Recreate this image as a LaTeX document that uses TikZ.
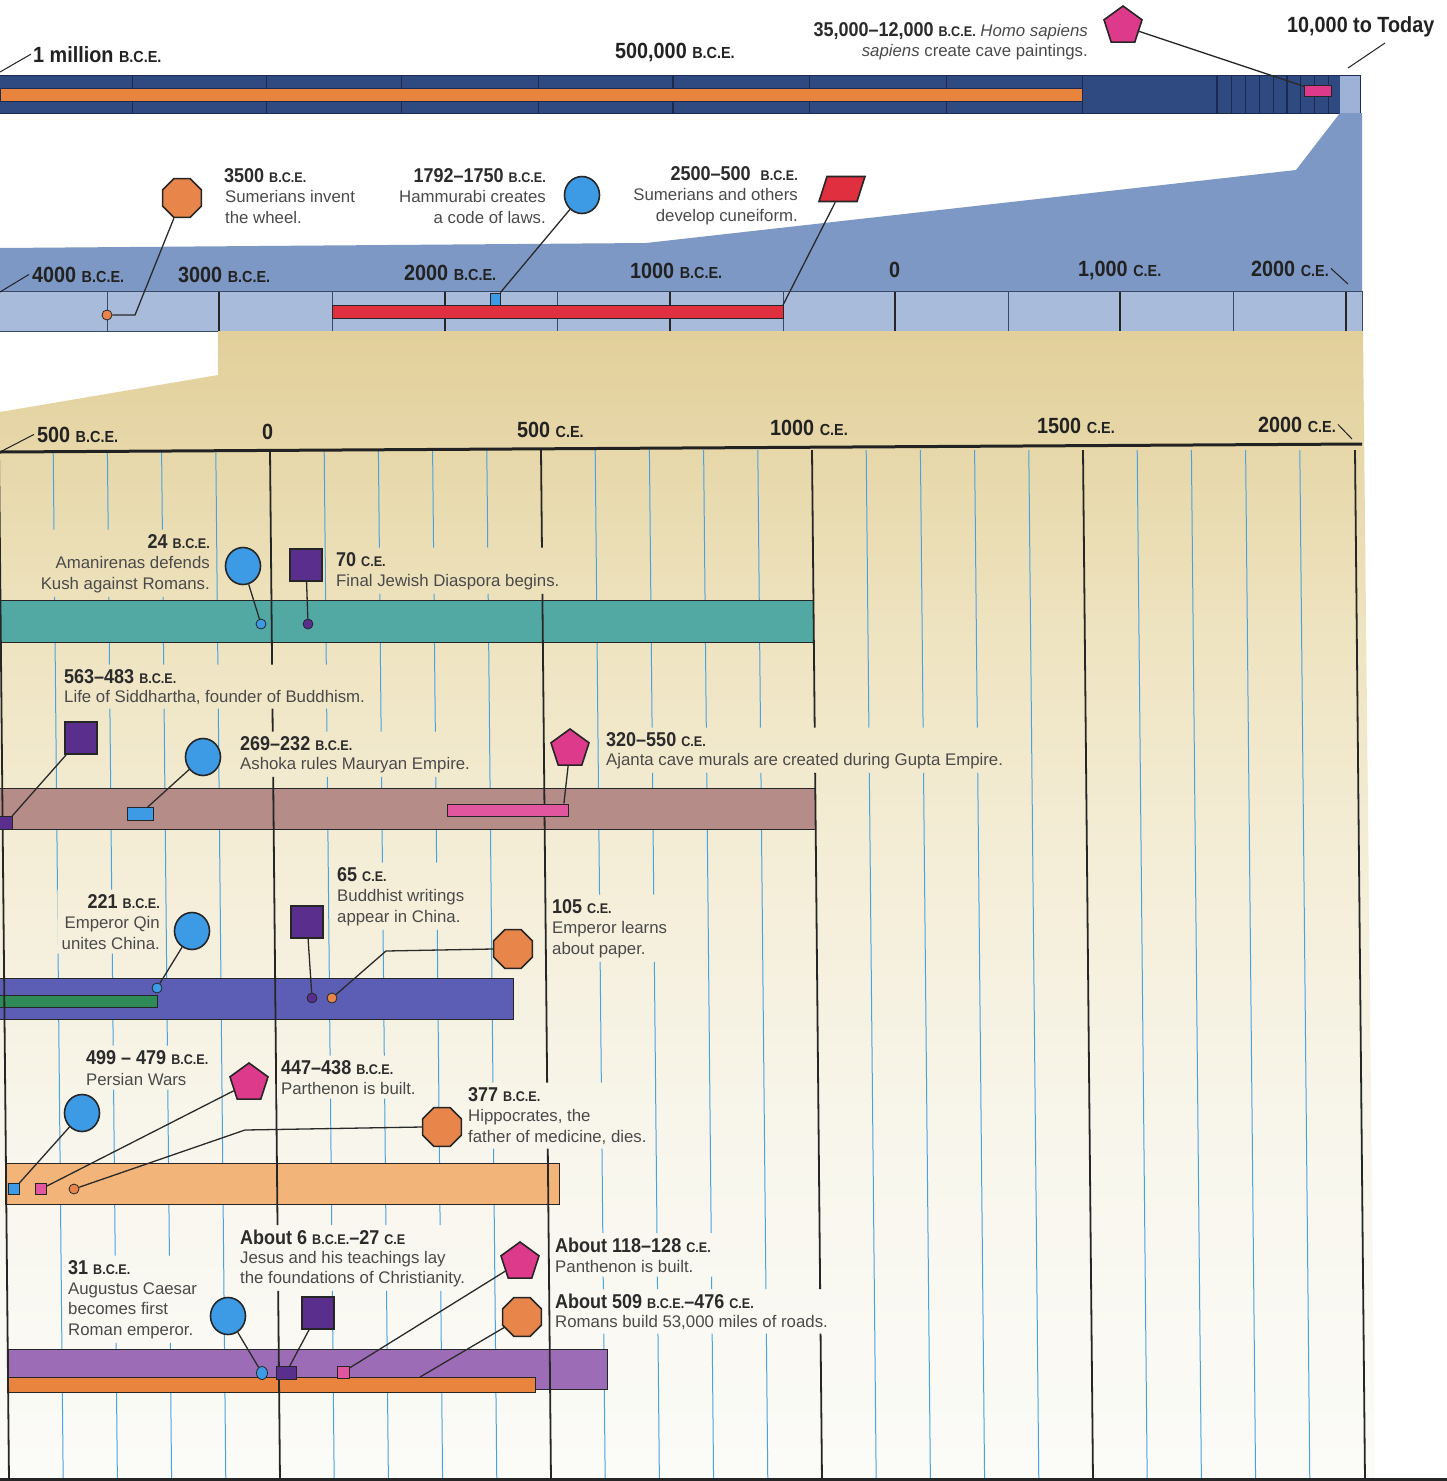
\documentclass[tikz,border=0pt]{standalone}
\usepackage{fontspec}
\setmainfont{Liberation Sans}
\newfontfamily\condf{Liberation Sans}[FakeStretch=0.9]
\usetikzlibrary{shapes.geometric,fit}
\definecolor{navy}{HTML}{2F4A80}
\definecolor{navyD}{HTML}{1A2A50}
\definecolor{navyLt}{HTML}{9DB2D6}
\definecolor{slate}{HTML}{7D98C4}
\definecolor{slateLt}{HTML}{A8BBDA}
\definecolor{stripD}{HTML}{3A4A66}
\definecolor{bgA}{HTML}{E2CF9A}
\definecolor{bgB}{HTML}{EEE3BF}
\definecolor{bgC}{HTML}{F4EDD6}
\definecolor{bgE}{HTML}{F8F6EC}
\definecolor{bgF}{HTML}{FBFBF8}
\definecolor{dateC}{HTML}{2B2B2B}
\definecolor{descC}{HTML}{4A4A4A}
\definecolor{axC}{HTML}{222222}
\definecolor{lineC}{HTML}{2A2A2A}
\definecolor{edgeC}{HTML}{262626}
\definecolor{blueM}{HTML}{3D9BE6}
\definecolor{purpleM}{HTML}{5A2E8C}
\definecolor{pinkM}{HTML}{DE3A8B}
\definecolor{pinkL}{HTML}{E2559F}
\definecolor{orangeM}{HTML}{E8854A}
\definecolor{orangeS}{HTML}{E8843E}
\definecolor{redM}{HTML}{E0303F}
\definecolor{greenB}{HTML}{2E8B57}
\definecolor{tealB}{HTML}{52A9A4}
\definecolor{mauveB}{HTML}{B58C87}
\definecolor{violetB}{HTML}{5B5EB4}
\definecolor{lorangeB}{HTML}{F3B47A}
\definecolor{purpleB}{HTML}{9C6DB6}
\definecolor{gridB}{HTML}{4AA3DF}
\newcommand{\sfx}[1]{{\fontsize{14}{16}\selectfont #1}}
\newcommand{\asfx}[1]{{\fontsize{16}{18}\selectfont #1}}
\newcommand{\dtf}{\condf\bfseries\fontsize{20}{24}\selectfont\color{dateC}}
\begin{document}
\begin{tikzpicture}[x=1pt,y=-1pt,
  lft/.style={anchor=base west},
  rgt/.style={anchor=base east},
  descr/.style={font=\fontsize{16.8}{20}\selectfont, text=descC, inner sep=0pt},
  axl/.style={font=\condf\bfseries\fontsize{22}{26}\selectfont, text=axC, inner sep=0pt},
  conn/.style={draw=lineC, line width=1.3pt},
  lead/.style={draw=axC, line width=1pt},
  mk/.style={draw=edgeC, line width=1.6pt, inner sep=0pt},
  bigc/.style={mk, ellipse, minimum width=35pt, minimum height=37pt},
  bigsq/.style={mk, rectangle, minimum size=32pt},
  penta/.style={mk, regular polygon, regular polygon sides=5, minimum size=40pt},
  octa/.style={mk, regular polygon, regular polygon sides=8, minimum size=42pt},
  dot/.style={draw=edgeC, line width=0.8pt, circle, minimum size=10pt, inner sep=0pt},
  smk/.style={draw=edgeC, line width=0.8pt, rectangle, inner sep=0pt},
  barS/.style={draw=edgeC, line width=0.8pt},
  blk/.style={inner sep=4pt},
  gline/.style={draw=gridB, line width=1pt},
  kline/.style={draw=black!85, line width=1.8pt}]
\useasboundingbox (0,0) rectangle (1447,1481);
\fill[white] (0,0) rectangle (1447,1481);

% ===== top band =====
\fill[navy] (0,75) rectangle (1360,113);
\fill[navyLt] (1340,75) rectangle (1360,113);
\foreach \x in {132,266,401,538,809,946,1082,1231,1245,1259,1273,1300,1314,1328}
  \draw[navyD, line width=0.9pt] (\x,75) -- (\x,113);
\foreach \x in {673,1217,1287}
  \draw[navyD, line width=2pt] (\x,75) -- (\x,113);
\draw[navyD, line width=1pt] (0,75) -- (1360,75) (0,113) -- (1360,113) (1360,75) -- (1360,113);
\filldraw[fill=orangeS, draw=navyD, line width=0.6pt] (0,88) rectangle (1082,101);

\node[axl, lft] (lblMil) at (33,62) {1 million \asfx{B.C.E.}};
\coordinate (mil) at (0,72);
\draw[lead] (mil) -- ([xshift=-2pt]lblMil.west);
\node[axl, lft] (lbl500k) at (615,58) {500,000 \asfx{B.C.E.}};
\node[descr, rgt] (cave1) at (1088,36) {{\dtf 35,000–12,000 \sfx{B.C.E.}} \textit{Homo sapiens}};
\node[descr, rgt] (cave2) at (1088,56) {\textit{sapiens} create cave paintings.};
\node[axl, lft] (lblToday) at (1287,32) {10,000 to Today};
\coordinate (todayA) at (1385,43);
\coordinate (todayB) at (1348,68);
\draw[lead] (todayA) -- (todayB);
\node[smk, fill=pinkM, minimum width=27pt, minimum height=11pt] (cavebar) at (1318,91) {};
\node[penta, fill=pinkM] (cavep) at (1123,26) {};
\draw[conn] (cavep) -- (cavebar);

% ===== blue section =====
\fill[slate] (0,248) -- (646,243) -- (1296,170) -- (1340,113) -- (1362,113) -- (1362,291) -- (0,291) -- cycle;
\fill[slateLt] (0,291) rectangle (1362,331);
\foreach \x in {107,332,557,783,1008,1233}
  \draw[stripD, line width=0.9pt] (\x,291) -- (\x,331);
\foreach \x in {219,445,670,895,1120,1346}
  \draw[black!85, line width=2.2pt] (\x,291) -- (\x,331);
\draw[stripD, line width=1pt] (0,291) -- (1362,291) (0,331) -- (1362,331) (1362,291) -- (1362,331);
\filldraw[fill=redM, draw=edgeC, line width=0.6pt] (332,305) rectangle (783,318);

\node[axl,lft] (l4000) at (32,282) {4000 \asfx{B.C.E.}};
\coordinate (c4000) at (0,292);
\draw[lead] (c4000) -- ([xshift=-3pt]l4000.west);
\node[axl,lft] (l3000) at (178,282) {3000 \asfx{B.C.E.}};
\node[axl,lft] (l2000) at (404,280) {2000 \asfx{B.C.E.}};
\node[axl,lft] (l1000) at (630,278) {1000 \asfx{B.C.E.}};
\node[axl,lft] (l0) at (889,277) {0};
\node[axl,lft] (l1000ce) at (1078,276) {1,000 \asfx{C.E.}};
\node[axl,lft] (l2000ce) at (1251,276) {2000 \asfx{C.E.}};
\coordinate (c2000ce) at (1348,284);
\draw[lead] ([xshift=2pt]l2000ce.east) -- (c2000ce);

\node[descr,lft] (w1) at (224,182) {{\dtf 3500 \sfx{B.C.E.}}};
\node[descr,lft] (w2) at (225,202) {Sumerians invent};
\node[descr,lft] (w3) at (225,223) {the wheel.};
\node[descr,rgt] (h1) at (546,182) {{\dtf 1792–1750 \sfx{B.C.E.}}};
\node[descr,rgt] (h2) at (546,202) {Hammurabi creates};
\node[descr,rgt] (h3) at (546,223) {a code of laws.};
\node[descr,rgt] (cu1) at (798,180) {{\dtf 2500–500 \ \sfx{B.C.E.}}};
\node[descr,rgt] (cu2) at (798,200) {Sumerians and others};
\node[descr,rgt] (cu3) at (798,221) {develop cuneiform.};

\node[dot, fill=orangeM] (dW) at (107,315) {};
\coordinate (cW) at (135,315);
\node[octa, fill=orangeM] (mW) at (182,198) {};
\draw[conn] (dW) -- (cW) -- (mW);
\node[smk, fill=blueM, minimum width=10pt, minimum height=12pt] (sH) at (495,299) {};
\node[bigc, fill=blueM] (mH) at (582,195) {};
\draw[conn] (mH) -- (sH);
\begin{scope}[shift={(842,189)}]
\node[mk, fill=redM, minimum width=38pt, minimum height=25pt, xslant=0.32, transform shape] (mC) at (0,0) {};
\end{scope}
\coordinate (eC) at (783,305);
\draw[conn] (mC) -- (eC);

% ===== beige section =====
\begin{scope}
\clip (218,331) -- (1363,331) -- (1375,1481) -- (0,1481) -- (0,412) -- (218,375) -- cycle;
\shade[top color=bgA, bottom color=bgB] (-5,329) rectangle (1400,621);
\shade[top color=bgB, bottom color=bgC] (-5,620) rectangle (1400,851);
\shade[top color=bgC, bottom color=bgE] (-5,850) rectangle (1400,1141);
\shade[top color=bgE, bottom color=bgF] (-5,1140) rectangle (1400,1482);
\end{scope}

\node[axl,lft] (b500) at (37,442) {500 \asfx{B.C.E.}};
\coordinate (cb500) at (0,452);
\draw[lead] (cb500) -- ([xshift=-3pt]b500.west);
\node[axl,lft] (b0) at (262,439) {0};
\node[axl,lft] (b500ce) at (517,437) {500 \asfx{C.E.}};
\node[axl,lft] (b1000) at (770,435) {1000 \asfx{C.E.}};
\node[axl,lft] (b1500) at (1037,433) {1500 \asfx{C.E.}};
\node[axl,lft] (b2000) at (1258,432) {2000 \asfx{C.E.}};
\coordinate (cb2000) at (1352,439);
\draw[lead] ([xshift=2pt]b2000.east) -- (cb2000);

% row texts
\node[descr,rgt] (a1) at (210,548) {{\dtf 24 \sfx{B.C.E.}}};
\node[descr,rgt] (a2) at (210,568) {Amanirenas defends};
\node[descr,rgt] (a3) at (210,589) {Kush against Romans.};
\node[descr,lft] (b1) at (336,566) {{\dtf 70 \sfx{C.E.}}};
\node[descr,lft] (b2) at (336,586) {Final Jewish Diaspora begins.};
\node[descr,lft] (c1) at (64,683) {{\dtf 563–483 \sfx{B.C.E.}}};
\node[descr,lft] (c2) at (64,702) {Life of Siddhartha, founder of Buddhism.};
\node[descr,lft] (d1) at (240,750) {{\dtf 269–232 \sfx{B.C.E.}}};
\node[descr,lft] (d2) at (240,769) {Ashoka rules Mauryan Empire.};
\node[descr,lft] (e1) at (606,746) {{\dtf 320–550 \sfx{C.E.}}};
\node[descr,lft] (e2) at (606,765) {Ajanta cave murals are created during Gupta Empire.};
\node[descr,rgt] (f1) at (160,908) {{\dtf 221 \sfx{B.C.E.}}};
\node[descr,rgt] (f2) at (160,928) {Emperor Qin};
\node[descr,rgt] (f3) at (160,949) {unites China.};
\node[descr,lft] (g1) at (337,881) {{\dtf 65 \sfx{C.E.}}};
\node[descr,lft] (g2) at (337,901) {Buddhist writings};
\node[descr,lft] (g3) at (337,922) {appear in China.};
\node[descr,lft] (k1) at (552,913) {{\dtf 105 \sfx{C.E.}}};
\node[descr,lft] (k2) at (552,933) {Emperor learns};
\node[descr,lft] (k3) at (552,954) {about paper.};
\node[descr,lft] (i1) at (86,1064) {{\dtf 499 – 479 \sfx{B.C.E.}}};
\node[descr,lft] (i2) at (86,1085) {Persian Wars};
\node[descr,lft] (j1) at (281,1074) {{\dtf 447–438 \sfx{B.C.E.}}};
\node[descr,lft] (j2) at (281,1094) {Parthenon is built.};
\node[descr,lft] (q1) at (468,1101) {{\dtf 377 \sfx{B.C.E.}}};
\node[descr,lft] (q2) at (468,1121) {Hippocrates, the};
\node[descr,lft] (q3) at (468,1142) {father of medicine, dies.};
\node[descr,lft] (u1) at (68,1274) {{\dtf 31 \sfx{B.C.E.}}};
\node[descr,lft] (u2) at (68,1294) {Augustus Caesar};
\node[descr,lft] (u3) at (68,1314) {becomes first};
\node[descr,lft] (u4) at (68,1335) {Roman emperor.};
\node[descr,lft] (n1) at (240,1244) {{\dtf About 6 \sfx{B.C.E.}–27 \sfx{C.E}}};
\node[descr,lft] (n2) at (240,1263) {Jesus and his teachings lay};
\node[descr,lft] (n3) at (240,1283) {the foundations of Christianity.};
\node[descr,lft] (o1) at (555,1252) {{\dtf About 118–128 \sfx{C.E.}}};
\node[descr,lft] (o2) at (555,1272) {Panthenon is built.};
\node[descr,lft] (p1) at (555,1308) {{\dtf About 509 \sfx{B.C.E.}–476 \sfx{C.E.}}};
\node[descr,lft] (p2) at (555,1327) {Romans build 53,000 miles of roads.};

\node[blk, fit=(a1)(a2)(a3)] (B1) {};
\node[blk, fit=(b1)(b2)] (B2) {};
\node[blk, fit=(c1)(c2)] (B3) {};
\node[blk, fit=(d1)(d2)] (B4) {};
\node[blk, fit=(e1)(e2)] (B5) {};
\node[blk, fit=(f1)(f2)(f3)] (B6) {};
\node[blk, fit=(g1)(g2)(g3)] (B7) {};
\node[blk, fit=(k1)(k2)(k3)] (B8) {};
\node[blk, fit=(i1)(i2)] (B9) {};
\node[blk, fit=(j1)(j2)] (B10) {};
\node[blk, fit=(q1)(q2)(q3)] (B11) {};
\node[blk, fit=(u1)(u2)(u3)(u4)] (B12) {};
\node[blk, fit=(n1)(n2)(n3)] (B13) {};
\node[blk, fit=(o1)(o2)] (B14) {};
\node[blk, fit=(p1)(p2)] (B15) {};

\begin{scope}[even odd rule]
\clip (-20,440) rectangle (1460,1490)
  (B1.south west) rectangle (B1.north east)
  (B2.south west) rectangle (B2.north east)
  (B3.south west) rectangle (B3.north east)
  (B4.south west) rectangle (B4.north east)
  (B5.south west) rectangle (B5.north east)
  (B6.south west) rectangle (B6.north east)
  (B7.south west) rectangle (B7.north east)
  (B8.south west) rectangle (B8.north east)
  (B9.south west) rectangle (B9.north east)
  (B10.south west) rectangle (B10.north east)
  (B11.south west) rectangle (B11.north east)
  (B12.south west) rectangle (B12.north east)
  (B13.south west) rectangle (B13.north east)
  (B14.south west) rectangle (B14.north east)
  (B15.south west) rectangle (B15.north east);
\foreach \x in {53.2,107.4,161.6,215.8,324.2,378.4,432.6,486.8,595.2,649.4,703.6,757.8,866.2,920.4,974.6,1028.8,1137.2,1191.4,1245.6,1299.8}
  \draw[gline] (\x,450) -- (\x+10,1481);
% bars
\filldraw[fill=tealB, barS] (-2,600) rectangle (813,642);
\filldraw[fill=mauveB, barS] (-2,788) rectangle (815,829);
\filldraw[fill=violetB, barS] (-2,978) rectangle (513,1019);
\filldraw[fill=greenB, barS] (-2,995) rectangle (157,1007);
\filldraw[fill=lorangeB, barS] (5,1163) rectangle (559,1204);
\filldraw[fill=purpleB, barS] (8,1349) rectangle (607,1389);
\filldraw[fill=orangeS, barS] (8,1377) rectangle (535,1392);
\foreach \x in {-1,270,541,812,1083,1355}
  \draw[kline] (\x,450) -- (\x+10,1481);
\end{scope}

\draw[axC, line width=3pt] (0,452) -- (1362,444);
\draw[black!85, line width=3pt] (0,1479) -- (1447,1479);

% row 1 markers
\node[dot, fill=blueM] (d1a) at (261,624) {};
\node[dot, fill=purpleM] (d1b) at (308,624) {};
\node[bigc, fill=blueM] (m1a) at (243,566) {};
\node[bigsq, fill=purpleM] (m1b) at (306,565) {};
\draw[conn] (m1a) -- (d1a);
\draw[conn] (m1b) -- (d1b);

% row 2 markers
\node[smk, fill=purpleM, minimum width=13pt, minimum height=13pt] (s2a) at (6,823) {};
\node[smk, fill=blueM, minimum width=26pt, minimum height=13pt] (s2b) at (140,814) {};
\node[smk, fill=pinkL, minimum width=121pt, minimum height=12pt] (s2c) at (508,810) {};
\node[bigsq, fill=purpleM] (m2a) at (81,738) {};
\node[bigc, fill=blueM] (m2b) at (203,757) {};
\node[penta, fill=pinkM] (m2c) at (570,749) {};
\draw[conn] (m2a) -- (s2a);
\draw[conn] (m2b) -- (s2b);
\draw[conn] (m2c) -- ([xshift=-5pt]s2c.north east);

% row 3 markers
\node[dot, fill=blueM] (d3a) at (157,988) {};
\node[dot, fill=purpleM] (d3b) at (312,998) {};
\node[dot, fill=orangeM] (d3c) at (332,998) {};
\node[bigc, fill=blueM] (m3a) at (192,931) {};
\node[bigsq, fill=purpleM] (m3b) at (307,922) {};
\node[octa, fill=orangeM] (m3c) at (513,949) {};
\coordinate (c3) at (386,951);
\draw[conn] (m3a) -- (d3a);
\draw[conn] (m3b) -- (d3b);
\draw[conn] (d3c) -- (c3) -- (m3c.west);

% row 4 markers
\node[smk, fill=blueM, minimum size=11pt] (s4a) at (14,1189) {};
\node[smk, fill=pinkL, minimum size=11pt] (s4b) at (41,1189) {};
\node[dot, fill=orangeM] (d4c) at (74,1189) {};
\node[bigc, fill=blueM] (m4a) at (82,1113) {};
\node[penta, fill=pinkM] (m4b) at (249,1083) {};
\node[octa, fill=orangeM] (m4c) at (442,1127) {};
\coordinate (c4) at (245,1130);
\draw[conn] (m4a) -- (s4a);
\draw[conn] (m4b) -- (s4b);
\draw[conn] (d4c) -- (c4) -- (m4c.west);

% row 5 markers
\coordinate (c5) at (420,1377);
\node[bigc, fill=blueM] (m5a) at (228,1316) {};
\node[bigsq, fill=purpleM] (m5b) at (318,1313) {};
\node[penta, fill=pinkM] (m5c) at (520,1262) {};
\node[octa, fill=orangeM] (m5d) at (522,1317) {};
\node[dot, fill=blueM, ellipse, minimum width=11pt, minimum height=13pt] (d5a) at (262,1373) {};
\node[smk, fill=purpleM, minimum width=20pt, minimum height=13pt] (s5b) at (286,1373) {};
\node[smk, fill=pinkL, minimum size=12pt] (s5c) at (343,1372) {};
\draw[conn] (m5a) -- (d5a);
\draw[conn] (m5b) -- (s5b);
\draw[conn] (m5c) -- (s5c);
\draw[conn] (m5d) -- (c5);
\end{tikzpicture}
\end{document}
